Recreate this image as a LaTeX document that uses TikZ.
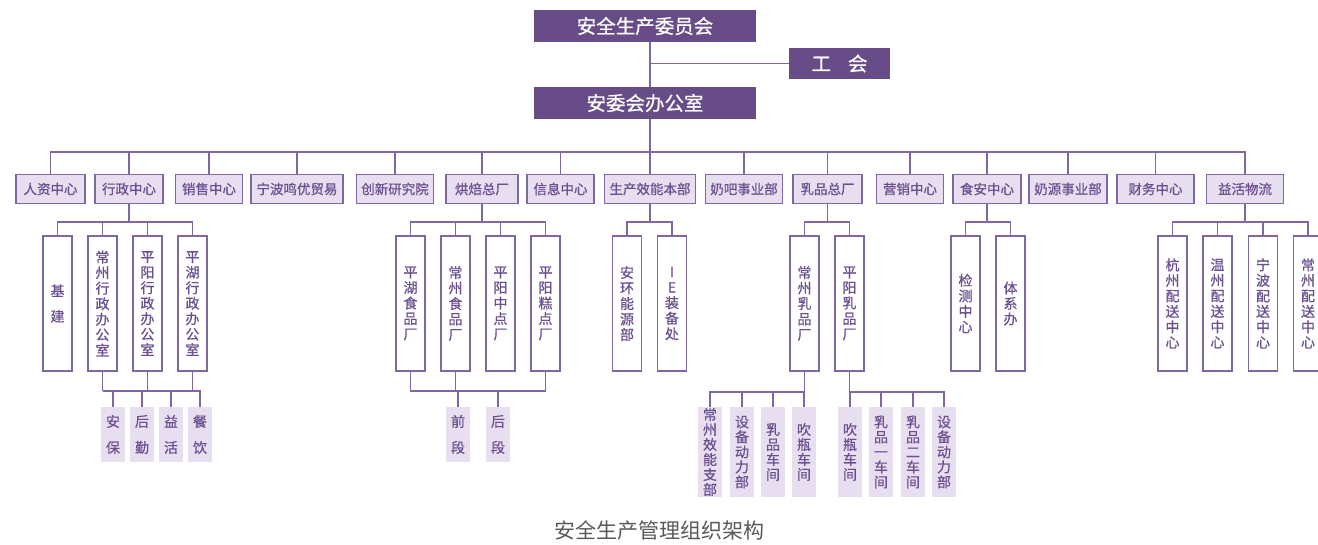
\documentclass[tikz,border=0pt]{standalone}
\usepackage{fontspec}
\setmainfont{Noto Sans CJK SC}
\newfontfamily\medfont[FakeBold=0.7]{Noto Sans CJK SC}
\usepackage{tikz}
\definecolor{darkpur}{HTML}{674C87}
\definecolor{linepur}{HTML}{7F67A2}
\definecolor{lightpur}{HTML}{E7DFEF}
\definecolor{textpur}{HTML}{6B5090}
\definecolor{capgray}{HTML}{595959}
\tikzset{
  line/.style={draw=linepur,line width=1.4pt},
  topbox/.style={fill=darkpur,text=white,minimum width=222pt,minimum height=32pt,inner sep=0pt,font=\medfont\fontsize{19.5}{20}\selectfont},
  lvbox/.style={fill=lightpur,draw=linepur,line width=1.4pt,minimum height=29pt,inner sep=0pt,text=textpur,font=\medfont\fontsize{13.5}{14}\selectfont},
  tallbox/.style={fill=white,draw=linepur,line width=1.4pt,minimum width=29pt,minimum height=135pt,inner sep=0pt,align=center,text=textpur,font=\medfont\fontsize{14}{15.5}\selectfont},
  leaf/.style={fill=lightpur,minimum width=24pt,inner sep=0pt,align=center,text=textpur,font=\medfont\fontsize{14}{15}\selectfont}
}
\begin{document}
\begin{tikzpicture}[x=1pt,y=-1pt]
\useasboundingbox (0,0) rectangle (1318,545);
\coordinate (tr) at (650,0);
\coordinate (b0) at (0,152);
\coordinate (b1) at (0,222);
\coordinate (b2) at (0,391);
\coordinate (b3) at (0,392);
\node[topbox] (weiyuanhui) at (645,26) {安全生产委员会};
\node[topbox,minimum width=101pt,minimum height=31pt] (gonghui) at (839.5,63.5) {工\hspace{17pt}会};
\node[topbox] (bangongshi) at (645,103) {安委会办公室};
\draw[line] (weiyuanhui.south -| tr) -- (bangongshi.north -| tr);
\draw[line] (tr |- gonghui.west) -- (gonghui.west);
\node[lvbox,minimum width=69pt] (rzzx) at (50.5,189) {人资中心};
\node[lvbox,minimum width=68pt] (xzzx) at (129,189) {行政中心};
\node[lvbox,minimum width=66.5pt] (xszx) at (209,189) {销售中心};
\node[lvbox,minimum width=92pt] (nbmy) at (297,189) {宁波鸣优贸易};
\node[lvbox,minimum width=77.5pt] (cxyjy) at (395,189) {创新研究院};
\node[lvbox,minimum width=72pt] (hbzc) at (482,189) {烘焙总厂};
\node[lvbox,minimum width=67pt] (xxzx) at (560.5,189) {信息中心};
\node[lvbox,minimum width=91pt] (scxn) at (650,189) {生产效能本部};
\node[lvbox,minimum width=77.5pt] (nbsy) at (744,189) {奶吧事业部};
\node[lvbox,minimum width=69pt] (rpzc) at (827.5,189) {乳品总厂};
\node[lvbox,minimum width=67pt] (yxzx) at (910,189) {营销中心};
\node[lvbox,minimum width=68pt] (sazx) at (987,189) {食安中心};
\node[lvbox,minimum width=78pt] (nysy) at (1068,189) {奶源事业部};
\node[lvbox,minimum width=77pt] (cwzx) at (1155.5,189) {财务中心};
\node[lvbox,minimum width=77pt] (yhwl) at (1245,189) {益活物流};
\foreach \c in {rzzx,xzzx,xszx,nbmy,cxyjy,hbzc,xxzx,scxn,nbsy,rpzc,yxzx,sazx,nysy,cwzx,yhwl}
  \draw[line] (bangongshi.south -| tr) -- (tr |- b0) -| (\c.north);
\node[tallbox] (jj) at (57.5,303.5) {基\\[10pt]建};
\node[tallbox] (czxz) at (102.5,303.5) {常\\州\\行\\政\\办\\公\\室};
\node[tallbox] (pyxz) at (147.5,303.5) {平\\阳\\行\\政\\办\\公\\室};
\node[tallbox] (phxz) at (192.5,303.5) {平\\湖\\行\\政\\办\\公\\室};
\foreach \c in {jj,czxz,pyxz,phxz}
  \draw[line] (xzzx.south) -- (xzzx.south |- b1) -| (\c.north);
\node[tallbox] (phsp) at (410.5,303.5) {平\\湖\\食\\品\\厂};
\node[tallbox] (czsp) at (455.5,303.5) {常\\州\\食\\品\\厂};
\node[tallbox] (pyzd) at (500.5,303.5) {平\\阳\\中\\点\\厂};
\node[tallbox] (pygd) at (545.5,303.5) {平\\阳\\糕\\点\\厂};
\foreach \c in {phsp,czsp,pyzd,pygd}
  \draw[line] (hbzc.south) -- (hbzc.south |- b1) -| (\c.north);
\node[tallbox] (ahny) at (627,303.5) {安\\环\\能\\源\\部};
\node[tallbox] (iezb) at (672,303.5) {I\\E\\装\\备\\处};
\foreach \c in {ahny,iezb}
  \draw[line] (scxn.south) -- (scxn.south |- b1) -| (\c.north);
\node[tallbox] (czrp) at (804.5,303.5) {常\\州\\乳\\品\\厂};
\node[tallbox] (pyrp) at (849.5,303.5) {平\\阳\\乳\\品\\厂};
\foreach \c in {czrp,pyrp}
  \draw[line] (rpzc.south) -- (rpzc.south |- b1) -| (\c.north);
\node[tallbox] (jczx) at (965.5,303.5) {检\\测\\中\\心};
\node[tallbox] (txb) at (1010.5,303.5) {体\\系\\办};
\foreach \c in {jczx,txb}
  \draw[line] (sazx.south) -- (sazx.south |- b1) -| (\c.north);
\node[tallbox] (hzps) at (1172.5,303.5) {杭\\州\\配\\送\\中\\心};
\node[tallbox] (wzps) at (1217.5,303.5) {温\\州\\配\\送\\中\\心};
\node[tallbox] (nbps) at (1263,303.5) {宁\\波\\配\\送\\中\\心};
\node[tallbox] (czps) at (1308,303.5) {常\\州\\配\\送\\中\\心};
\foreach \c in {hzps,wzps,nbps,czps}
  \draw[line] (yhwl.south) -- (yhwl.south |- b1) -| (\c.north);
\node[leaf,minimum height=55pt] (ab) at (113,434.5) {安\\[11pt]保};
\node[leaf,minimum height=55pt] (hq) at (142,434.5) {后\\[11pt]勤};
\node[leaf,minimum height=55pt] (yh) at (171,434.5) {益\\[11pt]活};
\node[leaf,minimum height=55pt] (cy) at (200,434.5) {餐\\[11pt]饮};
\foreach \p in {czxz,pyxz,phxz}
  \draw[line] (\p.south) -- (\p.south |- b2);
\foreach \c in {ab,hq,yh,cy}
  \draw[line] (czxz.south |- b2) -| (\c.north);
\node[leaf,minimum height=55pt] (qd) at (458,434.5) {前\\[11pt]段};
\node[leaf,minimum height=55pt] (hd) at (498,434.5) {后\\[11pt]段};
\draw[line] (phsp.south) -- (phsp.south |- b2) -| (pygd.south);
\draw[line] (czsp.south) -- (czsp.south |- b2);
\foreach \c in {qd,hd}
  \draw[line] (\c.north) -- (\c.north |- b2);
\node[leaf,minimum height=90pt] (czxn) at (710,452) {常\\州\\效\\能\\支\\部};
\node[leaf,minimum height=90pt] (sbdla) at (742,452) {设\\备\\动\\力\\部};
\node[leaf,minimum height=90pt] (rpcj) at (773,452) {乳\\品\\车\\间};
\node[leaf,minimum height=90pt] (cpcja) at (804,452) {吹\\瓶\\车\\间};
\foreach \c in {czxn,sbdla,rpcj,cpcja}
  \draw[line] (czrp.south) -- (czrp.south |- b3) -| (\c.north);
\node[leaf,minimum height=90pt] (cpcjb) at (850,452) {吹\\瓶\\车\\间};
\node[leaf,minimum height=90pt] (rpyc) at (881,452) {乳\\品\\一\\车\\间};
\node[leaf,minimum height=90pt] (rpec) at (913,452) {乳\\品\\二\\车\\间};
\node[leaf,minimum height=90pt] (sbdlb) at (944,452) {设\\备\\动\\力\\部};
\foreach \c in {cpcjb,rpyc,rpec,sbdlb}
  \draw[line] (pyrp.south) -- (pyrp.south |- b3) -| (\c.north);
\node[text=capgray,font=\fontsize{21}{21}\selectfont] (biaoti) at (659,530) {安全生产管理组织架构};
\end{tikzpicture}
\end{document}
